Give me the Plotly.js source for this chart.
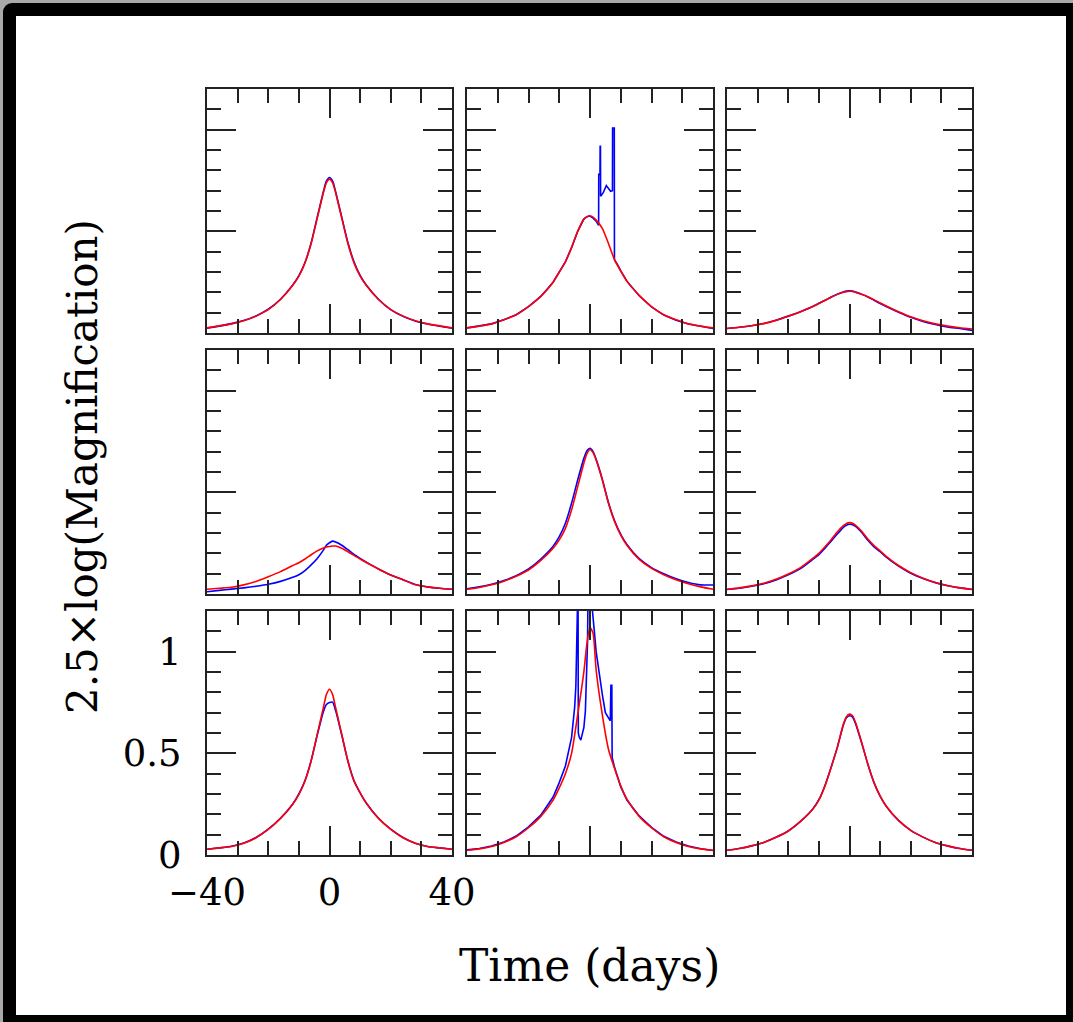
<!DOCTYPE html>
<html>
<head>
<meta charset="utf-8">
<script src="https://cdn.plot.ly/plotly-3.0.1.min.js"></script>
<style>
  html, body { margin:0; padding:0; }
  body { width:1073px; height:1022px; overflow:hidden; background:#a9a9a9; position:relative; }
  #frame { position:absolute; left:3px; top:3px; width:1070px; height:1019px; background:#000; border-top-left-radius:9px; }
  #inner { position:absolute; left:16px; top:16px; width:1050px; height:999px; background:#fff; }
  #plot { position:absolute; left:0; top:0; width:1073px; height:1022px; }
</style>
</head>
<body>
<div id="frame"></div>
<div id="inner"></div>
<div id="plot"></div>
<script>
// Shared time grid (days)
const days = [-40,-36,-32,-28,-24,-20,-16,-12,-10,-8,-6,-4,-2,-1,0,1,2,4,6,8,10,12,16,20,24,28,32,36,40];

// Panel 1 (top left)
const p1Red  = [0.025,0.035,0.045,0.06,0.083,0.115,0.165,0.235,0.28,0.345,0.44,0.565,0.69,0.74,0.757,0.74,0.69,0.565,0.44,0.345,0.28,0.235,0.165,0.115,0.083,0.06,0.045,0.035,0.025];
const p1Blue = [0.024,0.034,0.046,0.061,0.084,0.117,0.166,0.236,0.282,0.347,0.443,0.57,0.695,0.748,0.765,0.748,0.695,0.57,0.445,0.35,0.283,0.236,0.166,0.115,0.082,0.059,0.044,0.033,0.024];

// Panel 2 (top middle)
const p2Red  = [0.025,0.034,0.045,0.065,0.09,0.13,0.18,0.25,0.30,0.35,0.42,0.50,0.56,0.572,0.577,0.57,0.555,0.515,0.44,0.36,0.305,0.255,0.185,0.13,0.09,0.065,0.045,0.034,0.025];
const p2BlueDays = [-40,-36,-32,-28,-24,-20,-16,-12,-10,-8,-6,-4,-2,-1,0,1,2,2.8,2.85,3.25,3.3,3.4,3.45,4.3,5.3,6.7,7.3,7.35,7.9,7.95,9,10,12,16,20,24,28,32,36,40];
const p2Blue = [0.025,0.034,0.045,0.065,0.09,0.13,0.18,0.25,0.30,0.35,0.42,0.50,0.56,0.572,0.575,0.565,0.55,0.53,0.78,0.78,0.918,0.918,0.672,0.69,0.725,0.697,0.70,1.008,1.008,0.36,0.335,0.305,0.255,0.183,0.128,0.088,0.063,0.044,0.033,0.022];

// Panel 3 (top right)
const p3Red  = [0.022,0.028,0.036,0.046,0.062,0.082,0.104,0.13,0.145,0.16,0.176,0.19,0.2,0.203,0.205,0.204,0.2,0.19,0.178,0.163,0.148,0.133,0.105,0.08,0.06,0.045,0.034,0.026,0.02];
const p3Blue = [0.022,0.028,0.036,0.047,0.063,0.083,0.105,0.13,0.146,0.161,0.177,0.191,0.202,0.206,0.208,0.206,0.201,0.19,0.177,0.161,0.145,0.13,0.102,0.077,0.057,0.042,0.03,0.022,0.013];

// Panel 4 (middle left)
const p4Red  = [0.023,0.028,0.033,0.045,0.062,0.085,0.11,0.14,0.154,0.172,0.193,0.212,0.226,0.231,0.234,0.236,0.236,0.225,0.208,0.19,0.172,0.155,0.123,0.093,0.07,0.045,0.035,0.028,0.023];
const p4Blue = [0.011,0.018,0.024,0.03,0.038,0.048,0.062,0.082,0.095,0.115,0.143,0.175,0.216,0.24,0.252,0.26,0.256,0.24,0.218,0.195,0.175,0.157,0.123,0.093,0.07,0.047,0.035,0.028,0.023];

// Panel 5 (centre)
const p5Red  = [0.023,0.032,0.045,0.063,0.087,0.118,0.165,0.225,0.266,0.323,0.413,0.528,0.643,0.69,0.711,0.695,0.659,0.561,0.446,0.356,0.29,0.24,0.17,0.126,0.095,0.07,0.05,0.035,0.023];
const p5Blue = [0.025,0.035,0.048,0.066,0.09,0.123,0.172,0.235,0.282,0.348,0.446,0.561,0.667,0.705,0.716,0.70,0.662,0.565,0.45,0.36,0.293,0.243,0.174,0.13,0.1,0.075,0.057,0.045,0.044];

// Panel 6 (middle right)
const p6Red  = [0.023,0.03,0.04,0.053,0.072,0.098,0.13,0.175,0.2,0.232,0.267,0.305,0.336,0.347,0.351,0.348,0.338,0.308,0.27,0.238,0.212,0.185,0.14,0.105,0.078,0.057,0.042,0.03,0.023];
const p6Blue = [0.022,0.028,0.038,0.05,0.069,0.094,0.125,0.17,0.194,0.225,0.26,0.295,0.328,0.338,0.343,0.341,0.332,0.302,0.264,0.232,0.208,0.181,0.137,0.102,0.076,0.056,0.041,0.03,0.022];

// Panel 7 (bottom left)
const p7Red  = [0.028,0.035,0.042,0.058,0.085,0.126,0.18,0.25,0.298,0.364,0.462,0.593,0.725,0.79,0.815,0.79,0.725,0.593,0.462,0.364,0.305,0.255,0.18,0.126,0.085,0.058,0.042,0.035,0.028];
const p7Blue = [0.028,0.035,0.043,0.059,0.086,0.127,0.181,0.251,0.3,0.366,0.464,0.59,0.705,0.74,0.75,0.752,0.71,0.59,0.462,0.366,0.306,0.256,0.181,0.127,0.086,0.058,0.042,0.035,0.028];

// Panel 8 (bottom middle)
const p8Red  = [0.023,0.03,0.042,0.062,0.09,0.134,0.19,0.27,0.33,0.40,0.50,0.69,0.90,1.04,1.12,1.09,0.91,0.69,0.52,0.425,0.34,0.275,0.19,0.134,0.09,0.062,0.042,0.03,0.023];
const p8BlueDays = [-40,-36,-32,-28,-24,-20,-16,-12,-10,-8,-6,-5,-4.6,-4.4,-4.2,-4.1,-3.9,-3.8,-3.5,-3,-2.5,-2,-1.5,-1,-0.8,-0.6,0.6,0.8,1.2,1.5,2,3,4,5,6,6.6,6.8,7.1,7.2,8,10,12,16,20,24,28,32,36,40];
const p8Blue = [0.025,0.032,0.044,0.064,0.093,0.138,0.196,0.285,0.356,0.438,0.577,0.725,0.83,0.94,1.06,1.35,1.35,0.6,0.58,0.565,0.59,0.626,0.708,0.92,1.05,1.35,1.35,1.2,1.1,1.085,1.0,0.889,0.79,0.7,0.675,0.66,0.834,0.834,0.48,0.43,0.335,0.27,0.192,0.136,0.092,0.064,0.044,0.031,0.022];

// Panel 9 (bottom right)
const p9Red  = [0.023,0.032,0.045,0.062,0.087,0.118,0.165,0.225,0.27,0.34,0.43,0.528,0.643,0.68,0.693,0.685,0.65,0.552,0.446,0.356,0.29,0.24,0.17,0.121,0.088,0.062,0.045,0.032,0.023];
const p9Blue = [0.023,0.032,0.045,0.062,0.087,0.118,0.165,0.226,0.272,0.342,0.432,0.528,0.64,0.675,0.685,0.678,0.645,0.55,0.446,0.356,0.29,0.24,0.17,0.121,0.088,0.062,0.045,0.032,0.023];

const xTitle = "Time (days)";
const yTitle = "2.5×log(Magnification)";

const panels = [
  {bx: days, by: p1Blue, ry: p1Red, bSmooth: true},
  {bx: p2BlueDays, by: p2Blue, ry: p2Red, bSmooth: false},
  {bx: days, by: p3Blue, ry: p3Red, bSmooth: true},
  {bx: days, by: p4Blue, ry: p4Red, bSmooth: true},
  {bx: days, by: p5Blue, ry: p5Red, bSmooth: true},
  {bx: days, by: p6Blue, ry: p6Red, bSmooth: true},
  {bx: days, by: p7Blue, ry: p7Red, bSmooth: true},
  {bx: p8BlueDays, by: p8Blue, ry: p8Red, bSmooth: false},
  {bx: days, by: p9Blue, ry: p9Red, bSmooth: true}
];

const W = 1073, H = 1022;
const colPx = [[207,452],[467,713],[727,972]];
const rowPx = [[89,333],[350,594],[611,855]];
const FONT = "DejaVu Serif, Liberation Serif, serif";
const axCol = "#222";

const traces = [];
const layout = {
  width: W, height: H,
  margin: {l:0, r:0, t:0, b:0},
  paper_bgcolor: "rgba(0,0,0,0)",
  plot_bgcolor: "#ffffff",
  showlegend: false,
  font: {family: FONT, color: "#000", size: 37},
  annotations: [
    {text: xTitle, xref: "paper", yref: "paper", x: 589.5/W, y: 1 - 965/H, xanchor: "center", yanchor: "middle",
     showarrow: false, font: {family: FONT, size: 44, color: "#000"}},
    {text: yTitle, xref: "paper", yref: "paper", x: 82/W, y: 1 - 467/H, xanchor: "center", yanchor: "middle",
     textangle: -90, showarrow: false, font: {family: FONT, size: 42, color: "#000"}}
  ]
};

panels.forEach((p, i) => {
  const n = i + 1;
  const r = Math.floor(i / 3), c = i % 3;
  const xa = n === 1 ? "x" : "x" + n;
  const ya = n === 1 ? "y" : "y" + n;
  traces.push({x: p.bx, y: p.by, xaxis: xa, yaxis: ya, type: "scatter", mode: "lines",
    line: {color: "#0000ff", width: 1.6, shape: p.bSmooth ? "spline" : "linear", smoothing: 0.6}, hoverinfo: "skip"});
  traces.push({x: days, y: p.ry, xaxis: xa, yaxis: ya, type: "scatter", mode: "lines",
    line: {color: "#ff0000", width: 1.6, shape: "spline", smoothing: 0.6}, hoverinfo: "skip"});
  const showLbl = (n === 7);
  const common = {
    showline: true, linecolor: axCol, linewidth: 2, mirror: "ticks",
    ticks: "inside", ticklen: 29, tickwidth: 2, tickcolor: axCol,
    showgrid: false, zeroline: false, fixedrange: true,
    tickfont: {family: FONT, size: 37, color: "#000"},
    showticklabels: showLbl
  };
  layout[n === 1 ? "xaxis" : "xaxis" + n] = Object.assign({}, common, {
    domain: [colPx[c][0]/W, colPx[c][1]/W], anchor: ya,
    range: [-40, 40], tickmode: "linear", tick0: 0, dtick: 40, ticklabelstandoff: 4,
    minor: {dtick: 10, tick0: 0, ticks: "inside", ticklen: 14, tickwidth: 2, tickcolor: axCol, showgrid: false}
  });
  layout[n === 1 ? "yaxis" : "yaxis" + n] = Object.assign({}, common, {
    domain: [1 - rowPx[r][1]/H, 1 - rowPx[r][0]/H], anchor: xa,
    range: [0, 1.2], tickmode: "linear", tick0: 0, dtick: 0.5, ticklabelstandoff: 16,
    minor: {dtick: 0.1, tick0: 0, ticks: "inside", ticklen: 14, tickwidth: 2, tickcolor: axCol, showgrid: false}
  });
});

Plotly.newPlot("plot", traces, layout, {displayModeBar: false, staticPlot: true});
</script>
</body>
</html>
